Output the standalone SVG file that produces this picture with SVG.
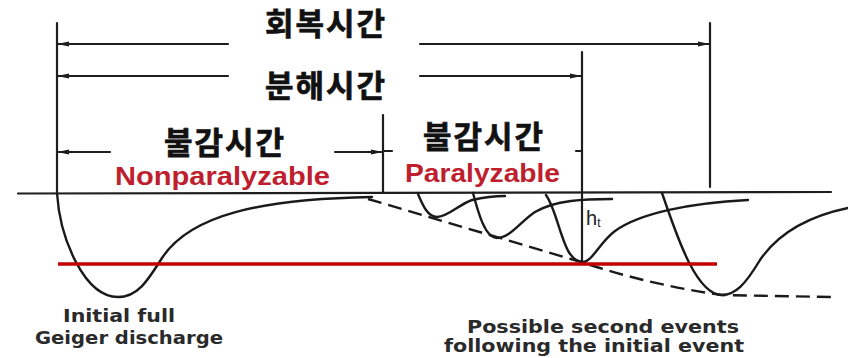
<svg xmlns="http://www.w3.org/2000/svg" width="848" height="358" viewBox="0 0 848 358">
<style>
.ln{stroke:#1e1e1e;stroke-width:2.2;fill:none;stroke-linecap:round}
.cv{stroke:#1a1a1a;stroke-width:2.4;fill:none;stroke-linecap:round;stroke-linejoin:round}
.ds{stroke:#1a1a1a;stroke-width:2.4;fill:none;stroke-dasharray:14 7}
.ko{font-family:"Noto Sans CJK KR","Noto Sans",sans-serif;font-weight:bold;font-size:31px;fill:#111;stroke:#111;stroke-width:0.7;text-anchor:middle;letter-spacing:2px}
.rd{font-family:"Liberation Sans","Noto Sans",sans-serif;font-weight:bold;font-size:25px;fill:#be1e2d;text-anchor:middle}
.cap{font-family:"DejaVu Sans","Liberation Sans",sans-serif;font-weight:bold;font-size:17px;fill:#2a2a2a;text-anchor:middle}
</style>
<defs>
<marker id="ah" markerUnits="userSpaceOnUse" markerWidth="13" markerHeight="7" refX="12" refY="3" orient="auto-start-reverse">
<path d="M0,0.5 L12,3 L0,5.5 z" fill="#1e1e1e"/>
</marker>
</defs>
<rect width="848" height="358" fill="#fff"/>

<g id="axes">
<line class="ln" x1="18" y1="193.5" x2="831" y2="192"/>
<line class="ln" x1="57" y1="23" x2="57" y2="194"/>
<line class="ln" x1="710" y1="23" x2="710" y2="187"/>
<line class="ln" x1="582" y1="52" x2="582" y2="261"/>
<line class="ln" x1="383" y1="115" x2="383" y2="193"/>
</g>

<g id="connectors">
<line class="ln" x1="57" y1="44" x2="228" y2="44" marker-start="url(#ah)"/>
<line class="ln" x1="420" y1="44" x2="710" y2="44" marker-end="url(#ah)"/>
<line class="ln" x1="57" y1="76" x2="228" y2="76" marker-start="url(#ah)"/>
<line class="ln" x1="420" y1="76" x2="582" y2="76" marker-end="url(#ah)"/>
<line class="ln" x1="57" y1="152" x2="110" y2="152" marker-start="url(#ah)"/>
<line class="ln" x1="335" y1="152" x2="383" y2="152" marker-end="url(#ah)"/>
<line class="ln" x1="383" y1="151" x2="392" y2="151"/>
<line class="ln" x1="576" y1="151" x2="582" y2="151"/>
</g>

<g id="pulses">
<path class="cv" d="M57,193 C60,240 85,297 118,297 C138,297 148,280 162,258 C190,215 260,199 372,197"/>
<path class="ds" d="M368,199 L581,262 Q650,285 722,295 L832,297"/>
<path class="cv" d="M418,194 C423,206 428,217 437,217 C448,217 458,205 472,200 C485,197 495,196 505,196"/>
<path class="cv" d="M473,193 C478,212 485,238 497,238 C510,238 520,222 535,212 C555,200 585,199 612,199"/>
<path class="cv" d="M546,195 C560,215 562,262 583,262 C592,262 600,242 615,231 C640,213 690,203 748,200"/>
<path class="cv" d="M662,193 C675,230 695,295 722,295 C735,295 745,285 760,260 C775,238 800,218 848,208"/>
<line x1="58" y1="264" x2="717" y2="264" stroke="#c00000" stroke-width="3.5"/>
</g>

<g id="label-recovery"><text class="ko" x="326" y="35">회복시간</text></g>
<g id="label-resolving"><text class="ko" x="326" y="97">분해시간</text></g>
<g id="label-dead-nonpar">
<text class="ko" x="225" y="154">불감시간</text>
<text class="rd" x="222.5" y="185" textLength="215" lengthAdjust="spacingAndGlyphs">Nonparalyzable</text>
</g>
<g id="label-dead-par">
<text class="ko" x="484" y="148">불감시간</text>
<text class="rd" x="482.5" y="182" textLength="155" lengthAdjust="spacingAndGlyphs">Paralyzable</text>
</g>
<g id="label-ht">
<text x="586" y="225" font-family="Liberation Sans, sans-serif" font-size="20" fill="#222">h<tspan font-size="12" dy="2">t</tspan></text>
</g>
<g id="caption-left">
<text class="cap" x="119" y="322" textLength="112" lengthAdjust="spacingAndGlyphs">Initial full</text>
<text class="cap" x="129" y="344" textLength="188" lengthAdjust="spacingAndGlyphs">Geiger discharge</text>
</g>
<g id="caption-right">
<text class="cap" x="603" y="333" textLength="272" lengthAdjust="spacingAndGlyphs">Possible second events</text>
<text class="cap" x="594" y="352" textLength="300" lengthAdjust="spacingAndGlyphs">following the initial event</text>
</g>
</svg>
